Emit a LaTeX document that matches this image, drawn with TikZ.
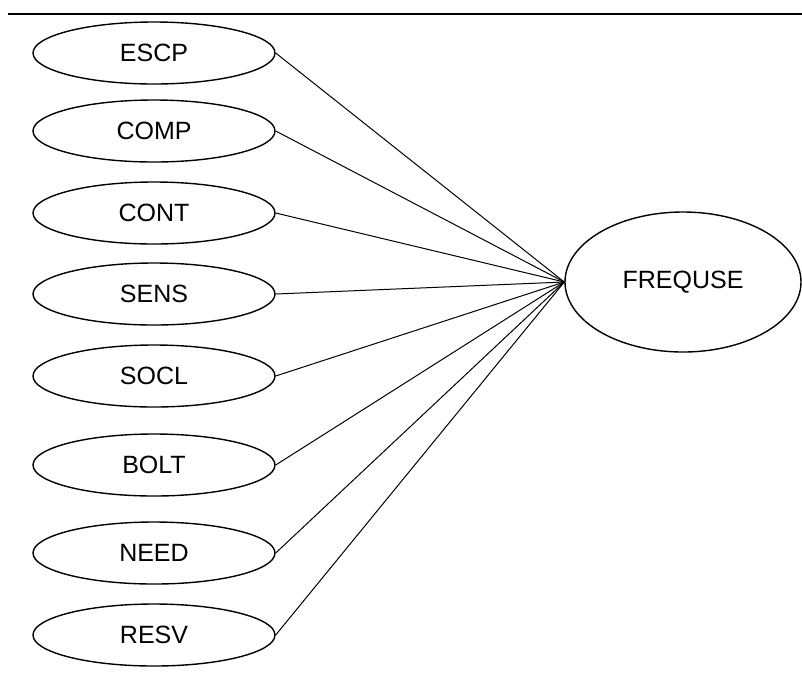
\documentclass[tikz,border=0pt]{standalone}
\usepackage{fontspec}
\setmainfont{Liberation Sans}
\usetikzlibrary{positioning, shapes}

\begin{document}
\begin{tikzpicture}[x=0.5pt, y=-0.5pt,
    item/.style={ellipse, draw, line width=0.7pt,
        minimum width=121pt, minimum height=31pt, inner sep=0pt,
        font=\fontsize{12.5}{15}\selectfont},
    link/.style={draw, line width=0.5pt}]
  \useasboundingbox (0,0) rectangle (802,676);
  \path[draw, line width=1.4pt] (8,14) -- (802,14);

  \coordinate (escp) at (154,53);
  \coordinate (comp) at (154,131);
  \coordinate (cont) at (154,213);
  \coordinate (sens) at (154,294);
  \coordinate (socl) at (154,376);
  \coordinate (bolt) at (154,465);
  \coordinate (need) at (154,553);
  \coordinate (resv) at (154,635);
  \coordinate (freq) at (683,282);

    \node[item] (ESCP) at (escp) {ESCP};
    \node[item] (COMP) at (comp) {COMP};
    \node[item] (CONT) at (cont) {CONT};
    \node[item] (SENS) at (sens) {SENS};
    \node[item] (SOCL) at (socl) {SOCL};
    \node[item] (BOLT) at (bolt) {BOLT};
    \node[item] (NEED) at (need) {NEED};
    \node[item] (RESV) at (resv) {RESV};
    \node[item,
        minimum width=118pt, minimum height=70pt,
    ] (FREQUSE) at (freq) {FREQUSE};

  \path[link] (ESCP.east) -- (FREQUSE.west);
  \path[link] (COMP.east) -- (FREQUSE.west);
  \path[link] (CONT.east) -- (FREQUSE.west);
  \path[link] (SENS.east) -- (FREQUSE.west);
  \path[link] (SOCL.east) -- (FREQUSE.west);
  \path[link] (BOLT.east) -- (FREQUSE.west);
  \path[link] (NEED.east) -- (FREQUSE.west);
  \path[link] (RESV.east) -- (FREQUSE.west);
\end{tikzpicture}
\end{document}
